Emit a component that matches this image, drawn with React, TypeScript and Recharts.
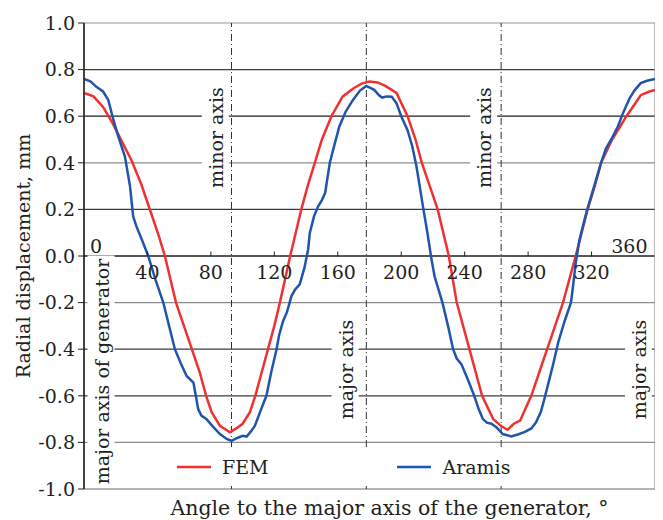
import React from 'react';
import { LineChart, Line, XAxis, YAxis, ReferenceLine } from 'recharts';

// ---------- data ----------
const xTicks = [0, 40, 80, 120, 160, 200, 240, 280, 320, 360];
const yTicks = [-1.0, -0.8, -0.6, -0.4, -0.2, 0.0, 0.2, 0.4, 0.6, 0.8, 1.0];

const femAngle = [0, 6, 12, 18, 24, 30, 36, 42, 47, 51, 58, 63, 68, 73, 77, 80.5, 85.7, 92, 96, 100, 104.6, 108, 112, 116, 120, 123.5, 130, 137, 141, 145.5, 150, 156, 163, 170, 175, 180, 185, 190, 197, 204, 209, 213, 218, 223, 230, 235, 243, 247, 251, 258, 263, 267, 271, 275, 278, 282, 287, 292, 297, 302, 310, 317.5, 322, 326, 333, 342, 351, 356, 360];
const femValue = [0.70, 0.685, 0.64, 0.57, 0.49, 0.41, 0.31, 0.19, 0.09, 0.0, -0.2, -0.3, -0.4, -0.5, -0.6, -0.67, -0.729, -0.757, -0.74, -0.72, -0.67, -0.6, -0.5, -0.4, -0.3, -0.2, 0.0, 0.2, 0.3, 0.4, 0.5, 0.6, 0.684, 0.72, 0.74, 0.749, 0.745, 0.73, 0.7, 0.6, 0.5, 0.4, 0.3, 0.2, 0.0, -0.2, -0.4, -0.5, -0.6, -0.7, -0.73, -0.746, -0.72, -0.706, -0.66, -0.6, -0.5, -0.4, -0.3, -0.2, 0.0, 0.2, 0.3, 0.4, 0.5, 0.6, 0.69, 0.705, 0.713];

const aramisAngle = [0, 4, 8, 12, 15.3, 18.5, 21.6, 25.8, 29, 31, 33, 36.5, 40.5, 45, 50, 57.3, 61, 64.7, 69, 72, 74, 77.3, 81, 85.7, 90, 93, 97, 100, 102.5, 105, 107.7, 111, 115, 118, 121.4, 123, 125.5, 128, 130.8, 133, 136, 139, 141.3, 142.4, 145, 147.6, 150, 152, 155, 158, 161, 165, 169.6, 174, 178, 183, 186, 188, 191, 194, 197, 200, 204, 207, 209.6, 213.7, 216.5, 219, 221, 226, 229.5, 232.7, 235, 238, 242, 246, 249, 251.5, 254, 256.8, 260, 264, 269.4, 274, 278, 282, 285, 288, 290, 293, 295.6, 299, 303, 307, 308.5, 310, 312.4, 316.7, 321, 326, 329, 332.4, 336.6, 339.8, 344, 347, 351, 355, 360];
const aramisValue = [0.76, 0.75, 0.725, 0.706, 0.67, 0.585, 0.513, 0.427, 0.3, 0.17, 0.128, 0.07, 0.0, -0.1, -0.2, -0.4, -0.46, -0.515, -0.543, -0.657, -0.685, -0.70, -0.73, -0.764, -0.785, -0.793, -0.78, -0.772, -0.775, -0.755, -0.729, -0.67, -0.6, -0.5, -0.4, -0.34, -0.28, -0.24, -0.172, -0.145, -0.122, -0.05, 0.028, 0.1, 0.17, 0.213, 0.24, 0.27, 0.4, 0.48, 0.556, 0.62, 0.67, 0.71, 0.73, 0.713, 0.69, 0.68, 0.685, 0.684, 0.656, 0.6, 0.54, 0.47, 0.385, 0.213, 0.1, -0.01, -0.087, -0.2, -0.3, -0.4, -0.44, -0.465, -0.53, -0.6, -0.66, -0.70, -0.715, -0.72, -0.735, -0.764, -0.774, -0.765, -0.755, -0.74, -0.714, -0.67, -0.62, -0.54, -0.47, -0.37, -0.28, -0.2, -0.12, -0.03, 0.07, 0.185, 0.285, 0.4, 0.46, 0.5, 0.556, 0.613, 0.677, 0.71, 0.742, 0.752, 0.76];

const gridValues = [1.0, 0.8, 0.6, 0.4, 0.2, -0.2, -0.4, -0.6, -0.8, -1.0];
const gridShades = ['#b8b8b8', '#3c3c3c', '#1e1e1e', '#8c8c8c', '#3c3c3c', '#8c8c8c', '#3c3c3c', '#3c3c3c', '#8c8c8c', '#9c9c9c'];

const axisMarkAngles = [93, 178, 263];
const axisMarkLabels = ['minor axis', 'major axis', 'minor axis'];

const seriesNames = ['FEM', 'Aramis'];

const femData = femAngle.map((a, i) => ({ x: a, y: femValue[i] }));
const aramisData = aramisAngle.map((a, i) => ({ x: a, y: aramisValue[i] }));

// ---------- styling ----------
const FONT = '"DejaVu Serif", serif';
const FS = 19;
const INK = '#231f20';
const RED = '#ee3131';
const BLUE = '#1f55ad';
const ZERO_Y = 248.5;

function XTick(props: any) {
  const { x, payload } = props;
  const v = payload.value;
  if (v === 0) {
    return <text x={x + 6} y={ZERO_Y - 4} textAnchor="start" fontFamily={FONT} fontSize={FS} fill={INK}>0</text>;
  }
  if (v === 360) {
    return <text x={x - 3.5} y={ZERO_Y - 4} textAnchor="end" fontFamily={FONT} fontSize={FS} fill={INK}>360</text>;
  }
  return (
    <g>
      <line x1={x} x2={x} y1={ZERO_Y} y2={ZERO_Y - 5} stroke={INK} strokeWidth={1} />
      <text x={x} y={ZERO_Y + 22} textAnchor="middle" fontFamily={FONT} fontSize={FS} fill={INK}>{v}</text>
    </g>
  );
}

function AxisNote(props: any) {
  const { viewBox, text, dx, cy, len } = props;
  if (!viewBox) return null;
  const bx = viewBox.x + dx;
  return (
    <g>
      <rect x={bx - 21} y={cy - len / 2 - 4} width={27} height={len + 8} fill="#fff" />
      <text x={bx} y={cy} transform={`rotate(-90 ${bx} ${cy})`} textAnchor="middle" fontFamily={FONT} fontSize={FS} fill={INK}>{text}</text>
    </g>
  );
}

function YTitle(props: any) {
  const { viewBox } = props;
  const x = viewBox.x + 6;
  const y = 248;
  return (
    <text x={x} y={y} transform={`rotate(-90 ${x} ${y})`} textAnchor="middle" fontFamily={FONT} fontSize={FS} fill={INK}>Radial displacement, mm</text>
  );
}

function XTitle(props: any) {
  const { viewBox } = props;
  const x = viewBox.x + viewBox.width / 2 + 20;
  const y = viewBox.y + 26;
  return (
    <text x={x} y={y} textAnchor="middle" fontFamily={FONT} fontSize={20.5} fill={INK}>Angle to the major axis of the generator, °</text>
  );
}

function LegendBox() {
  const colors = [RED, BLUE];
  const widths = [223, 130];
  return (
    <div style={{ position: 'absolute', left: 162, top: 440, width: 356, height: 38, display: 'flex', alignItems: 'center', paddingLeft: 7, boxSizing: 'border-box', background: '#fff' }}>
      {seriesNames.map((label, i) => (
        <div key={label} style={{ display: 'flex', alignItems: 'center', width: widths[i] }}>
          <svg width={34} height={4} style={{ marginRight: 11 }}>
            <line x1={0} x2={34} y1={2} y2={2} stroke={colors[i]} strokeWidth={2.5} />
          </svg>
          <span style={{ fontFamily: FONT, fontSize: FS, color: INK, lineHeight: '20px' }}>{label}</span>
        </div>
      ))}
    </div>
  );
}

export default function App() {
  return (
    <div style={{ width: 655, height: 512, position: 'relative', background: '#fff' }}>
      <LineChart width={655} height={512} margin={{ top: 15, right: 8, left: 16, bottom: 0 }}>
        <XAxis
          dataKey="x"
          type="number"
          domain={[0, 360]}
          ticks={xTicks}
          axisLine={false}
          tickLine={false}
          tick={<XTick />}
          height={31}
          allowDataOverflow
          label={<XTitle />}
        />
        <YAxis
          type="number"
          domain={[-1, 1]}
          ticks={yTicks}
          width={60}
          tickFormatter={(v: number) => v.toFixed(1)}
          tick={{ fontFamily: FONT, fontSize: FS, fill: INK }}
          tickLine={{ stroke: INK }}
          tickSize={6}
          tickMargin={3}
          axisLine={{ stroke: INK, strokeWidth: 1.2 }}
          label={<YTitle />}
        />
        {gridValues.map((v, i) => (
          <ReferenceLine key={'g' + i} y={v} stroke={gridShades[i]} strokeWidth={1.3} />
        ))}
        <ReferenceLine y={0} stroke={INK} strokeWidth={1.3} />
        {axisMarkAngles.map((a, i) => (
          <ReferenceLine
            key={'m' + i}
            x={a}
            stroke="#333"
            strokeWidth={1}
            strokeDasharray="7 3 1 3"
            label={<AxisNote text={axisMarkLabels[i]} dx={i === 1 ? -13.7 : i === 0 ? -8.7 : -10} cy={i === 1 ? 361.5 : 129.5} len={i === 1 ? 106 : 110} />}
          />
        ))}
        <ReferenceLine x={0} stroke={INK} strokeWidth={1.2} label={<AxisNote text="major axis of generator" dx={24.5} cy={363.5} len={224} />} />
        <ReferenceLine x={360} stroke="#9c9c9c" strokeWidth={1.3} label={<AxisNote text="major axis" dx={-9} cy={361.5} len={106} />} />
        <Line data={femData} dataKey="y" type="linear" stroke={RED} strokeWidth={2.5} dot={false} isAnimationActive={false} name="FEM" />
        <Line data={aramisData} dataKey="y" type="linear" stroke={BLUE} strokeWidth={2.5} dot={false} isAnimationActive={false} name="Aramis" />
      </LineChart>
      <LegendBox />
    </div>
  );
}
